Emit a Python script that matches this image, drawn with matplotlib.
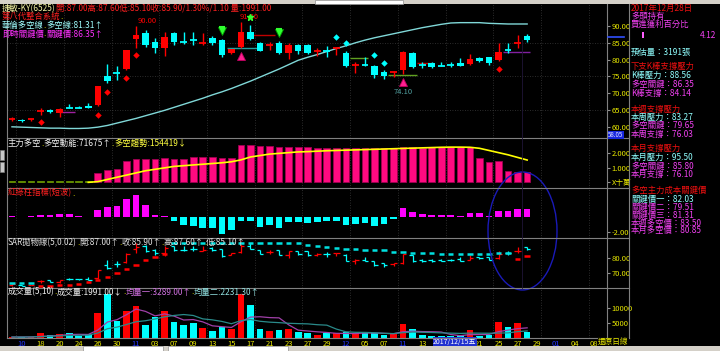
import numpy as np
import matplotlib
matplotlib.use("Agg")
import matplotlib.pyplot as plt
from matplotlib.patches import Ellipse, Rectangle
from matplotlib.lines import Line2D
from matplotlib.transforms import blended_transform_factory

plt.rcParams['font.family'] = ['Noto Sans CJK TC', 'DejaVu Sans']

# ---- daily bars of 捷敏-KY(6525) ----
opens = [62.2, 62.1, 61.9, 64.5, 65.1, 64.1, 65.8, 65.8, 66.3, 66.6,
         75.0, 76.1, 77.1, 86.1, 87.8, 85.3, 83.5, 88.0, 85.3, 85.9,
         84.8, 86.4, 85.8, 81.9, 83.9, 88.3, 85.0, 84.1, 85.0, 81.9,
         84.4, 84.4, 82.3, 82.8, 83.3, 82.1, 78.2, 78.5, 78.1, 76.4,
         76.3, 76.9, 82.1, 78.5, 78.9, 78.4, 78.7, 79.1, 78.7, 80.4,
         80.7, 79.9, 83.3, 84.6, 87.0]
highs = [63.0, 62.2, 62.3, 65.6, 65.3, 65.6, 66.8, 66.2, 67.2, 72.0,
         78.7, 78.0, 83.0, 90.0, 88.8, 86.3, 88.3, 88.3, 88.3, 88.3,
         88.0, 87.0, 86.0, 83.3, 91.3, 90.3, 85.3, 85.3, 85.5, 84.9,
         84.6, 84.6, 83.5, 84.1, 83.5, 82.5, 79.4, 80.9, 78.3, 76.9,
         76.5, 82.5, 82.3, 79.4, 79.2, 79.4, 79.3, 80.4, 81.7, 80.8,
         80.9, 84.9, 84.9, 87.3, 87.6]
lows = [61.6, 61.5, 61.8, 63.5, 64.1, 63.0, 65.6, 65.5, 65.5, 66.1,
        72.9, 74.0, 76.8, 83.5, 83.9, 81.9, 81.1, 84.4, 84.6, 84.4,
        84.4, 84.4, 80.8, 81.7, 83.5, 85.8, 82.5, 82.9, 81.7, 80.3,
        81.7, 81.6, 81.2, 80.7, 81.4, 77.8, 76.0, 78.1, 74.5, 74.1,
        74.8, 75.8, 77.6, 77.4, 77.5, 78.0, 77.8, 78.0, 78.4, 79.4,
        78.4, 79.6, 81.9, 83.4, 85.1]
closes = [62.4, 61.6, 62.2, 64.7, 64.3, 65.4, 65.7, 65.7, 65.6, 72.0,
          73.5, 75.9, 82.9, 87.3, 84.4, 83.4, 86.7, 85.2, 85.1, 85.7,
          85.0, 85.0, 81.4, 83.1, 88.3, 86.1, 82.7, 84.3, 81.9, 84.4,
          82.6, 81.9, 82.5, 82.6, 83.4, 78.1, 78.4, 78.3, 75.5, 75.2,
          76.4, 82.4, 77.9, 78.3, 77.9, 78.2, 78.5, 78.1, 80.1, 79.7,
          78.9, 82.4, 83.0, 84.8, 85.9]
ma_line = [60.0, 59.9, 59.8, 59.7, 59.6, 59.6, 59.5, 59.5, 59.6, 59.9,
           60.4, 61.1, 61.8, 62.5, 63.3, 64.1, 64.9, 65.8, 66.7, 67.6,
           68.5, 69.5, 70.4, 71.4, 72.5, 73.6, 74.8, 76.0, 77.2, 78.5,
           79.8, 80.7, 81.5, 82.4, 83.3, 84.1, 85.0, 85.8, 86.5, 87.1,
           87.7, 88.3, 88.9, 89.5, 90.0, 90.5, 90.9, 91.0, 91.0, 91.0,
           90.8, 90.7, 90.6, 90.6, 90.6]

# signal marks in the price panel
sell_idx = [22, 28]
buy_idx = [24, 41]
red_dot_idx = [3, 9, 10, 12, 13, 51]
red_dot_val = [61.3, 63.6, 70.3, 74.5, 81.4, 77.1]
cyan_dot_idx = [34, 35, 38, 39]
cyan_dot_val = [86.6, 85.0, 81.4, 78.9]
seg_start = [5.0, 22.5, 25.3, 35.4, 39.4, 42.5, 51.5]
seg_end = [6.6, 26.0, 27.6, 37.3, 42.5, 44.1, 54.3]
seg_price = [64.5, 83.5, 87.3, 80.4, 75.5, 79.1, 82.2]
seg_color = ['#a020a0', '#20a0a0', '#c00000', '#60a020', '#60a020', '#c00000', '#8020a0']
mark_high_1 = (13, "90.00")
mark_high_2 = (24, "91.30")
mark_low = (41, "74.10")

# 主力多空 (x 十萬)
power = [0.12, 0.12, 0.12, 0.12, 0.12, 0.12, 0.12, 0.12, 0.12, 0.62,
         0.85, 0.90, 1.49, 1.59, 1.59, 1.59, 1.66, 1.59, 1.59, 1.77,
         1.77, 1.77, 1.66, 1.66, 2.57, 2.57, 2.50, 2.50, 2.46, 2.46,
         2.41, 2.41, 2.34, 2.34, 2.34, 2.34, 2.34, 2.34, 2.34, 2.34,
         2.34, 2.46, 2.46, 2.34, 2.41, 2.41, 2.41, 2.41, 2.41, 1.66,
         1.42, 1.47, 0.80, 0.73, 0.72]
trend = [0.0, 0.0, 0.0, 0.0, 0.0, 0.0, 0.0, 0.0, 0.0, 0.05,
         0.2, 0.35, 0.5, 0.65, 0.8, 0.9, 1.0, 1.1, 1.15, 1.2,
         1.25, 1.3, 1.35, 1.42, 1.55, 1.75, 1.85, 1.95, 2.0, 2.05,
         2.1, 2.12, 2.15, 2.18, 2.2, 2.22, 2.24, 2.26, 2.28, 2.3,
         2.32, 2.34, 2.36, 2.38, 2.4, 2.42, 2.43, 2.43, 2.42, 2.35,
         2.2, 2.05, 1.9, 1.72, 1.54]

# 紅綠柱指標(短波)
redgreen = [0.22, 0.1, 0.13, 0.36, 0.36, 0.44, 0.44, 0.22, 0.05, 1.03,
            1.43, 1.47, 2.45, 3.0, 1.7, 0.36, 0.13, -0.47, -1.0, -1.13,
            -1.44, -1.44, -2.2, -1.67, -0.43, -0.43, -1.23, -1.0, -1.44, -0.69,
            -0.69, -0.8, -0.67, -0.45, -0.45, -1.03, -0.89, -0.8, -1.12, -0.93,
            -0.27, 1.2, 0.67, 0.4, 0.31, 0.31, 0.31, 0.23, 0.53, 0.53,
            0.17, 0.84, 0.84, 1.1, 1.1]

# SAR(5,0.02)
sar = [63.5, 63.4, 63.3, 61.0, 61.3, 61.7, 62.2, 62.8, 63.8, 65.0,
       67.0, 69.8, 72.5, 75.5, 78.5, 80.8, 82.5, 89.7, 89.7, 89.7,
       89.7, 89.7, 89.7, 89.7, 89.7, 89.7, 89.7, 89.7, 89.7, 89.7,
       89.7, 88.6, 88.0, 87.3, 86.4, 86.0, 85.8, 85.5, 85.2, 85.0,
       84.2, 83.8, 83.5, 83.2, 83.0, 82.8, 82.7, 82.6, 82.6, 82.6,
       82.7, 83.2, 83.5, 79.5, 81.3]

# 成交量 and its two averages
volume = [100, 100, 150, 1430, 750, 1090, 1630, 510, 1190, 8230,
          14700, 5610, 9010, 10820, 4250, 7070, 9010, 5170, 4250, 5030,
          3130, 2310, 3670, 2990, 14700, 11050, 2890, 2210, 2550, 2890,
          1970, 1430, 850, 1430, 1430, 1770, 1190, 1870, 1430, 850,
          1090, 4590, 2790, 750, 650, 510, 350, 850, 2550, 650,
          750, 5170, 3470, 5030, 1991]
vol_avg1 = [150, 180, 200, 350, 506, 704, 1010, 1082, 1034, 2530,
            5252, 6048, 7748, 9674, 8878, 7352, 8032, 7264, 5950, 6106,
            5318, 3978, 3678, 3426, 5360, 6944, 7060, 6768, 6680, 4318,
            2502, 2210, 1938, 1714, 1422, 1382, 1334, 1538, 1538, 1422,
            1286, 1966, 2150, 2014, 1974, 1858, 1010, 622, 982, 982,
            1030, 1994, 2518, 3014, 3289]
vol_avg2 = [150, 150, 180, 300, 450, 550, 700, 750, 800, 1518,
            2978, 3529, 4415, 5354, 5704, 6302, 7040, 7506, 7812, 7492,
            6335, 6005, 5471, 4688, 5733, 6131, 5519, 5223, 5053, 4839,
            4723, 4635, 4353, 4197, 2870, 1942, 1772, 1738, 1626, 1422,
            1334, 1650, 1844, 1776, 1698, 1572, 1488, 1386, 1498, 1478,
            1444, 1502, 1570, 1998, 2231]

# date axis (every second trading day, month starts in blue)
date_idx = list(range(1, 62, 2))
date_txt = ["10", "18", "20", "24", "26", "30", "11", "03", "07", "09", "13",
            "15", "17", "21", "23", "27", "29", "12", "05", "07", "11", "13",
            "15", "19", "21", "25", "27", "29", "01", "04", "08"]
month_txt = {"10", "11", "12", "01"}
cursor_idx = 45
cursor_txt = "2017/12/15五"
# ------------------------------------------------------------------

RED = '#ff0000'
CYAN = '#00ffff'
MAG = '#ff30ff'
YEL = '#ffff00'
W, H = 720, 351

fig = plt.figure(figsize=(W / 100, H / 100), dpi=100, facecolor='black')
renderer = fig.canvas.get_renderer()


def fx(x):
    return x / W


def fy(y):
    return 1 - y / H


def panel(top, bottom, ylim):
    ax = fig.add_axes([fx(7), fy(bottom), fx(607) - fx(7), fy(top) - fy(bottom)])
    ax.set_facecolor('black')
    ax.set_xlim(-0.52, 62.37)
    ax.set_ylim(*ylim)
    for s in ax.spines.values():
        s.set_visible(False)
    ax.tick_params(axis='x', bottom=False, labelbottom=False)
    ax.yaxis.tick_right()
    ax.tick_params(axis='y', length=2.5, color='#909090', labelcolor='#e8e800',
                   labelsize=5.5, pad=1)
    for gx in np.arange(0.45, 62, 5):
        ax.axvline(gx, color='#3a3a3a', lw=0.6, ls=(0, (1, 2)), zorder=0)
    return ax


def seq_text(x, y, parts, size=6):
    for s, c in parts:
        t = fig.text(fx(x), fy(y), s, color=c, fontsize=size, ha='left', va='center')
        x += t.get_window_extent(renderer).width


x = np.arange(len(closes))
o = np.array(opens)
h = np.array(highs)
l = np.array(lows)
c = np.array(closes)
up = c >= o
col = np.where(up, RED, CYAN)
doji = np.abs(c - o) < 0.35

# ---------------- price panel ----------------
ax1 = panel(4, 138, (56.67, 96.55))
for gy in (65, 75, 85):
    ax1.axhline(gy, color='#3a3a3a', lw=0.6, ls=(0, (1, 2)), zorder=0)
ax1.plot(x, ma_line, color='#80d8d8', lw=1.0, zorder=2)
ax1.vlines(x, l, h, colors=col, lw=1.0, zorder=3)
ax1.bar(x[~doji], np.abs(c - o)[~doji], bottom=np.minimum(o, c)[~doji], width=0.68,
        color=col[~doji], lw=0, zorder=4)
ax1.hlines(c[doji], x[doji] - 0.36, x[doji] + 0.36, colors=col[doji], lw=1.3, zorder=4)
ax1.hlines(seg_price, seg_start, seg_end, colors=seg_color, lw=1.0, zorder=2)
ax1.plot(red_dot_idx, red_dot_val, 'D', color=RED, ms=3.3, mew=0, zorder=5)
ax1.plot(cyan_dot_idx, cyan_dot_val, 'D', color=CYAN, ms=3.3, mew=0, zorder=5)
ax1.plot(sell_idx, h[sell_idx] + 2.4, 'v', color='#30ff30', mec='#00a000', ms=5.5, mew=0.6, zorder=6)
ax1.plot(sell_idx, h[sell_idx] + 3.6, '_', color='#30ff30', ms=5, mew=1.5, zorder=6)
ax1.plot(buy_idx, l[buy_idx] - 2.4, '^', color='#ff2090', mec='#c00060', ms=5.5, mew=0.6, zorder=6)
i2, s2 = mark_high_2
ax1.annotate(s2, (i2, h[i2]), xytext=(-1, 0.5), textcoords='offset points',
             color=RED, fontsize=5.5, ha='left', va='bottom', zorder=7)
ax1.plot([i2 + 1], [h[i2] + 1.3], '*', color='#30ff30', ms=5, zorder=8)
i1, s1 = mark_high_1
ax1.annotate(s1, (i1, h[i1]), xytext=(1, 0.5), textcoords='offset points',
             color=RED, fontsize=5.5, ha='left', va='bottom')
i3, s3 = mark_low
ax1.annotate(s3, (i3, l[i3]), xytext=(0, -13), textcoords='offset points',
             color='#50a0a0', fontsize=5.5, ha='center', va='center', zorder=5)
ax1.set_yticks(np.arange(60, 91, 5))
ax1.set_yticklabels([f"{v:.2f}" for v in np.arange(60, 91, 5)])

# ---------------- 主力多空 ----------------
ax2 = panel(138, 188, (-0.39, 3.06))
pc = np.where(x < 9, '#a8f000', '#ff0a80')
pe = np.where(x < 9, '#608a00', '#a00050')
ax2.bar(x, power, width=0.7, color=pc, edgecolor=pe, lw=0.6)
ax2.plot(x[8:], trend[8:], color='#ffff00', lw=1.2)
ax2.set_yticks([0, 1, 2])
ax2.set_yticklabels(["X十萬", "1.000", "2.000"])

# ---------------- 紅綠柱 ----------------
ax3 = panel(188, 238, (-2.76, 3.91))
rg = np.array(redgreen)
ax3.bar(x, rg, width=0.7, color=np.where(rg >= 0, '#ff00ff', CYAN), lw=0)
ax3.set_yticks([-2])
ax3.set_yticklabels(["-2.00"])

# ---------------- SAR ----------------
ax4 = panel(238, 288, (60, 93.33))
ax4.vlines(x, l, h, colors=col, lw=0.9)
ax4.hlines(o, x - 0.35, x, colors=col, lw=0.9)
ax4.hlines(c, x, x + 0.35, colors=col, lw=0.9)
sa = np.array(sar)
ax4.hlines(sa, x - 0.28, x + 0.28, colors=np.where(sa > c, '#00e0e0', RED), lw=1.8)
ax4.set_yticks([70, 80])
ax4.set_yticklabels(["70.00", "80.00"])

# ---------------- 成交量 ----------------
ax5 = panel(288, 338, (-170, 16840))
ax5.bar(x, volume, width=0.7, color=col, lw=0)
ax5.plot(x, vol_avg1, color='#a040a8', lw=0.9)
ax5.plot(x, vol_avg2, color='#2a8a8a', lw=0.9)
ax5.set_yticks([5000, 10000])
ax5.set_yticklabels(["5000", "10000"])
ax5.set_xticks(date_idx)
ax5.set_xticklabels(date_txt)
ax5.tick_params(axis='x', bottom=True, labelbottom=True, length=0, labelsize=5.5, pad=1.2)
for lbl, t, di in zip(ax5.get_xticklabels(), date_txt, date_idx):
    lbl.set_color('#2233ff' if t in month_txt else '#e8e800')
    if cursor_idx <= di < cursor_idx + 4:   # hidden under the cursor date box
        lbl.set_visible(False)
ax5.text(cursor_idx - 0.85, fy(342), cursor_txt, color='white', fontsize=5.0, ha='left', va='center',
         transform=blended_transform_factory(ax5.transData, fig.transFigure),
         bbox=dict(facecolor='#2030d0', edgecolor='none', pad=0.4), zorder=10, clip_on=False)
fig.text(fx(598), fy(342), "還原日線", color='#e8e800', fontsize=5.5, va='center',
         bbox=dict(facecolor='black', edgecolor='none', pad=0.3))

# ---------------- frame lines ----------------
gray = '#808080'
for yy in (138, 188, 238, 288, 338):
    fig.add_artist(Line2D([fx(7), fx(629)], [fy(yy), fy(yy)], color=gray, lw=0.8))
for xx in (7, 607, 629):
    fig.add_artist(Line2D([fx(xx), fx(xx)], [fy(4), fy(338)], color=gray, lw=0.8))
fig.add_artist(Line2D([fx(522), fx(522)], [fy(40), fy(288)], color='#201538', lw=0.6))
fig.add_artist(Line2D([fx(608), fx(624)], [fy(37), fy(37)], color='#3050ff', lw=1.2))
fig.text(fx(608), fy(135), "58.05", color='#e0e0ff', fontsize=4.5, va='center',
         bbox=dict(facecolor='#1828e0', edgecolor='none', pad=0.2))
# window chrome
fig.add_artist(Rectangle((0, fy(3.5)), 1, 3.5 / H, transform=fig.transFigure,
                         facecolor='#d4d0c8', edgecolor='none'))
fig.add_artist(Rectangle((fx(315), fy(3.5)), 88 / W, 3.5 / H, transform=fig.transFigure,
                         facecolor='white', edgecolor='#909090', lw=0.5))
fig.add_artist(Rectangle((0, 0), 1, 5.5 / H, transform=fig.transFigure,
                         facecolor='#d4d0c8', edgecolor='none'))
fig.add_artist(Rectangle((fx(83), 0), 80 / W, 5 / H, transform=fig.transFigure,
                         facecolor='white', edgecolor='#909090', lw=0.5))
fig.add_artist(Rectangle((fx(168), 0), 120 / W, 5 / H, transform=fig.transFigure,
                         facecolor='white', edgecolor='#909090', lw=0.5))
for yy in (150, 162):
    fig.add_artist(Rectangle((0, fy(yy + 10)), 4 / W, 10 / H, transform=fig.transFigure,
                             facecolor='#c8c8c8', edgecolor='#808080', lw=0.4))

# hand-drawn circle on the screenshot
fig.add_artist(Ellipse((fx(522.5), fy(231)), 69 / W, 118 / H, transform=fig.transFigure,
                       fill=False, edgecolor='#1a1ab8', lw=1.0))

# ---------------- texts ----------------
seq_text(2, 8.3, [("捷敏-KY(6525)", '#f0f0a0'),
                  ("開:87.00高:87.60低:85.10收:85.90/1.30%/1.10 量:1991.00", '#ff2020')])
seq_text(2, 16.7, [("第八代整合系統", '#ff2020'), (".", YEL)])
seq_text(2, 25.5, [("華倫多空線", '#a0ffff'), (".", YEL), ("多空線:81.31↑", '#a0ffff')])
seq_text(2, 34, [("即時關鍵價", MAG), (".", YEL), ("關鍵價:86.35↑", MAG)])
seq_text(8, 143, [("主力多空", '#f0f0f0'), (".", YEL), ("多空動能:71675↑", '#f0f0f0'),
                  (".", YEL), ("多空趨勢:154419↓", '#ffff40')])
seq_text(8, 193, [("紅綠柱指標(短波)", '#ff2020'), (".", YEL)])
seq_text(8, 242.5, [("SAR拋物線(5,0.02)", '#e0e0e0'), (".", YEL), ("開:87.00↑", '#e0e0e0'),
                    (".", YEL), ("收:85.90↑", '#e0e0e0'), (".", YEL), ("高:87.60↑", '#e0e0e0'),
                    (".", YEL), ("低:85.10↑", '#e0e0e0')])
seq_text(8, 292, [("成交量(5,10)", '#f0f0f0'), (".", YEL), ("成交量:1991.00↓", '#f0f0f0'),
                  (".", YEL), ("均量一:3289.00↑", '#d070e0'), (".", YEL),
                  ("均量二:2231.30↑", '#90e0e0')])

HEAD = '#ee1010'
CY = '#90ffff'
MG = '#f040f0'
right_panel = [
    (8.3, "2017年12月28日", HEAD), (16.3, "多頭持有", MG), (24.5, "買進獲利百分比", MG),
    (52.5, "預估量：3191張", CY),
    (66.7, "下支K棒支撐壓力", HEAD), (75.5, "K棒壓力：88.56", CY),
    (84.5, "多空關鍵：86.35", MG), (93, "K棒支撐：84.14", MG),
    (109, "本週支撐壓力", HEAD), (117.3, "本周壓力：83.27", CY),
    (125.8, "多空關鍵：79.65", MG), (134, "本周支撐：76.03", MG),
    (148.3, "本月支撐壓力", HEAD), (157.3, "本月壓力：95.50", CY),
    (166, "多空關鍵：85.80", MG), (174.3, "本月支撐：76.10", MG),
    (190.7, "多空主力成本關鍵價", HEAD), (199.3, "關鍵價一：82.03", CY),
    (207.3, "關鍵價二：79.51", MG), (215.3, "關鍵價三：81.31", MG),
    (223, "本週多空價：83.50", MG), (230.7, "本月多空價：80.85", MG),
]
for yy, s, cc in right_panel:
    fig.text(fx(631), fy(yy), s, color=cc, fontsize=6, ha='left', va='center')
fig.text(fx(716), fy(35), "4.12", color=MG, fontsize=6, ha='right', va='center')
fig.add_artist(Rectangle((fx(642), fy(38)), 2 / W, 6 / H, transform=fig.transFigure,
                         facecolor='#ff60ff', edgecolor='none'))

fig.savefig('out.png', dpi=100, facecolor='black')
